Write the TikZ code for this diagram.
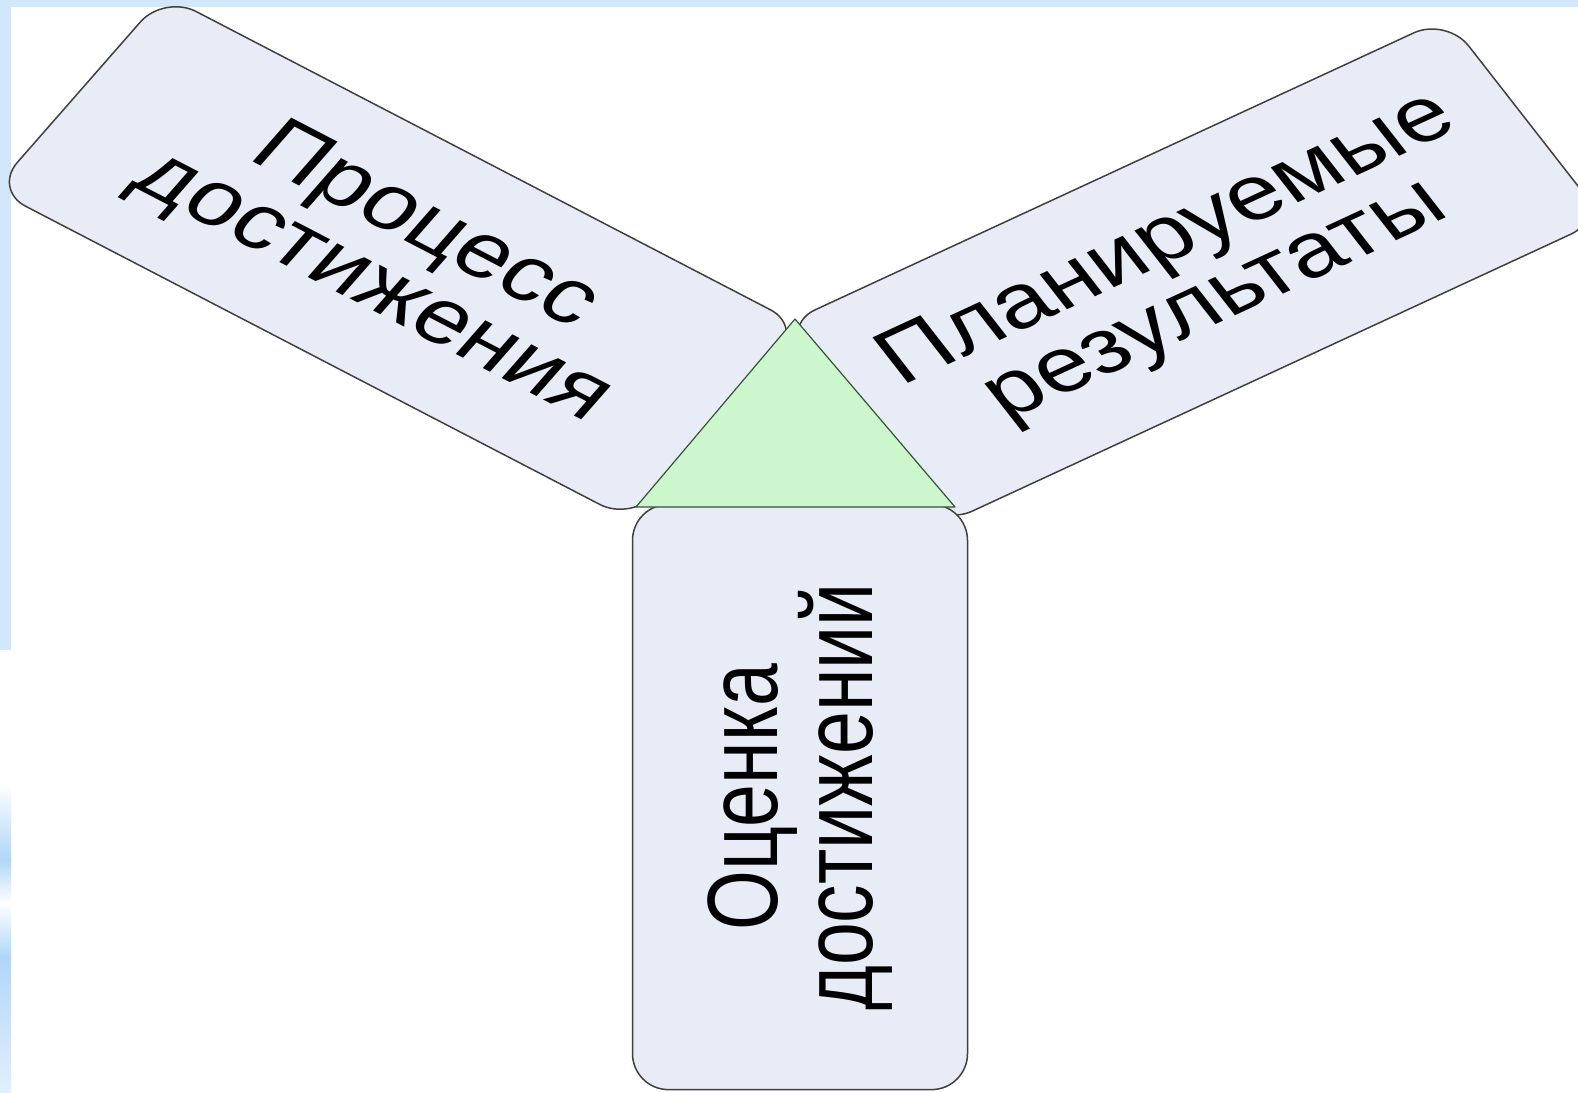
\documentclass[tikz,border=0pt]{standalone}
\usepackage{fontspec}
\setmainfont{Liberation Sans}
\definecolor{boxfill}{RGB}{232,236,247}
\definecolor{boxline}{RGB}{64,64,64}
\definecolor{trifill}{RGB}{204,247,204}
\definecolor{triline}{RGB}{60,80,60}
\definecolor{stripblue}{RGB}{208,231,252}
\definecolor{streak}{RGB}{176,214,248}
\definecolor{streaklight}{RGB}{226,239,252}
\tikzset{
  box/.style={draw=boxline, line width=1.5pt, fill=boxfill, rounded corners=36pt,
    minimum width=770pt, minimum height=305pt, align=center, inner sep=0pt,
    font=\fontsize{100}{93}\selectfont},
  tri/.style={draw=triline, line width=1.2pt, fill=trifill, line join=round}
}
\begin{document}
\begin{tikzpicture}[x=1pt,y=-1pt]
\useasboundingbox (0,0) rectangle (1578,1092);
\fill[white] (0,0) rectangle (1578,1092);
\fill[stripblue] (0,0) rectangle (1578,7);
\fill[stripblue] (0,0) rectangle (11,650);
\shade[top color=white, bottom color=streak] (0,783) rectangle (11,860);
\shade[top color=streak, bottom color=white] (0,860) rectangle (11,903);
\shade[top color=white, bottom color=streak] (0,903) rectangle (11,957);
\shade[top color=streak, bottom color=streaklight] (0,957) rectangle (11,1092);

\node[box, yscale=0.77, rotate=-34] (proc) at (398,258) {Процесс\\достижения};
\node[box, minimum width=775pt, yscale=0.77, rotate=31] (plan) at (1193,272) {Планируемые\\результаты};
\node[box, minimum width=760pt, minimum height=335pt,
      yscale=0.77, rotate=90] (otsenka) at (800,797) {Оценка\\достижений};

\coordinate (apex) at (795,319);
\coordinate (bright) at (955,507);
\coordinate (bleft) at (636,507);
\draw[tri] (apex) -- (bright) -- (bleft) -- cycle;
\end{tikzpicture}
\end{document}
